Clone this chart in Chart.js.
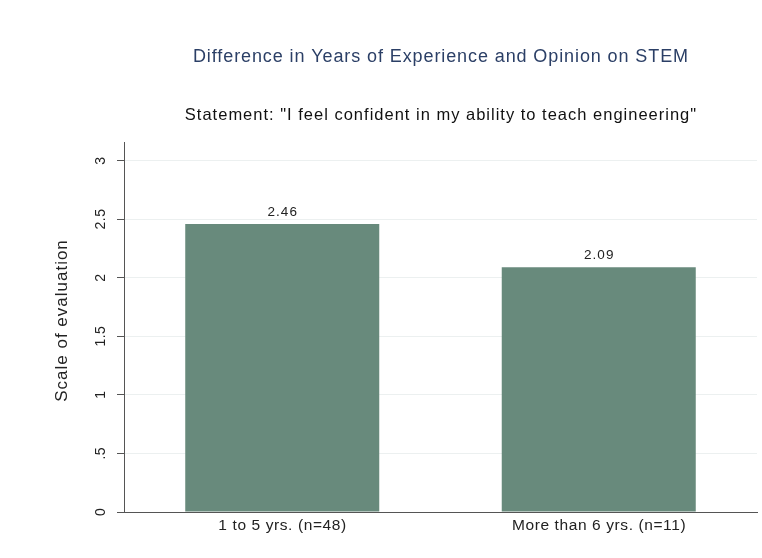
<!DOCTYPE html>
<html lang="en">
<head>
    <meta charset="UTF-8">
    <title>Difference in Years of Experience and Opinion on STEM</title>
    <script src="https://cdn.jsdelivr.net/npm/chart.js"></script>
    <style>
        html, body { margin: 0; padding: 0; background: #fff; }
        #wrap { width: 762px; height: 558px; }
    </style>
</head>
<body>
    <div id="wrap"><canvas id="stemChart"></canvas></div>
    <script>
        const titleText = 'Difference in Years of Experience and Opinion on STEM';
        const subtitleText = 'Statement: "I feel confident in my ability to teach engineering"';
        const yTitle = 'Scale of evaluation';
        const categories = ['1 to 5 yrs. (n=48)', 'More than 6 yrs. (n=11)'];
        const meanScores = [2.46, 2.09];
        const yTicks = [0, 0.5, 1, 1.5, 2, 2.5, 3];
        const yTickLabels = ['0', '.5', '1', '1.5', '2', '2.5', '3'];

        const FONT = '"Liberation Sans", Arial, sans-serif';

        // stata's text comes out wide and loosely spaced, so draw the text by hand
        function txt(ctx, s, x, y, size, spacing, color, angle) {
            ctx.save();
            ctx.font = size + 'px ' + FONT;
            ctx.fillStyle = color;
            ctx.textAlign = 'center';
            ctx.textBaseline = 'middle';
            if ('letterSpacing' in ctx) ctx.letterSpacing = spacing + 'px';
            ctx.translate(x, y);
            if (angle) ctx.rotate(angle);
            ctx.fillText(s, spacing / 2, 0);
            ctx.restore();
        }

        const stataText = {
            id: 'stataText',
            afterDraw(chart) {
                const ctx = chart.ctx;
                const area = chart.chartArea;
                const x = chart.scales.x;
                const y = chart.scales.y;
                const mid = (area.left + area.right) / 2;

                txt(ctx, titleText, mid, 57, 18, 0.9, '#2b3f66');
                txt(ctx, subtitleText, mid, 115, 16.5, 1.0, '#111');
                txt(ctx, yTitle, 62, (area.top + area.bottom) / 2 - 6, 17, 1.0, '#222', -Math.PI / 2);

                yTicks.forEach((v, i) => {
                    txt(ctx, yTickLabels[i], 101, y.getPixelForValue(v), 14, 0.5, '#222', -Math.PI / 2);
                });
                categories.forEach((c, i) => {
                    txt(ctx, c, x.getPixelForValue(i), 526, 15.5, 0.6, '#222');
                });
                chart.getDatasetMeta(0).data.forEach((bar, i) => {
                    txt(ctx, meanScores[i].toFixed(2), bar.x, bar.y - 12, 13.5, 1.0, '#222');
                });
            }
        };

        new Chart(document.getElementById('stemChart'), {
            type: 'bar',
            data: {
                labels: categories,
                datasets: [{
                    data: meanScores,
                    backgroundColor: '#688a7c',
                    borderWidth: 0,
                    barPercentage: 0.613,
                    categoryPercentage: 1
                }]
            },
            options: {
                responsive: true,
                maintainAspectRatio: false,
                animation: false,
                layout: { padding: { top: 142, right: 5, left: 0, bottom: 0 } },
                plugins: {
                    legend: { display: false },
                    tooltip: { enabled: false }
                },
                scales: {
                    x: {
                        grid: { display: false, drawTicks: false },
                        border: { display: true, color: '#555', width: 1 },
                        ticks: { display: false },
                        afterFit(scale) { scale.height = 46; }
                    },
                    y: {
                        min: 0,
                        max: 3.16,
                        afterBuildTicks(scale) {
                            scale.ticks = yTicks.map(v => ({ value: v }));
                        },
                        grid: {
                            color: 'rgba(200,212,212,0.35)',
                            tickColor: '#555',
                            tickLength: 7,
                            drawTicks: true
                        },
                        border: { display: true, color: '#555', width: 1 },
                        ticks: { display: false },
                        afterFit(scale) { scale.width = 124; }
                    }
                }
            },
            plugins: [stataText]
        });
    </script>
</body>
</html>
